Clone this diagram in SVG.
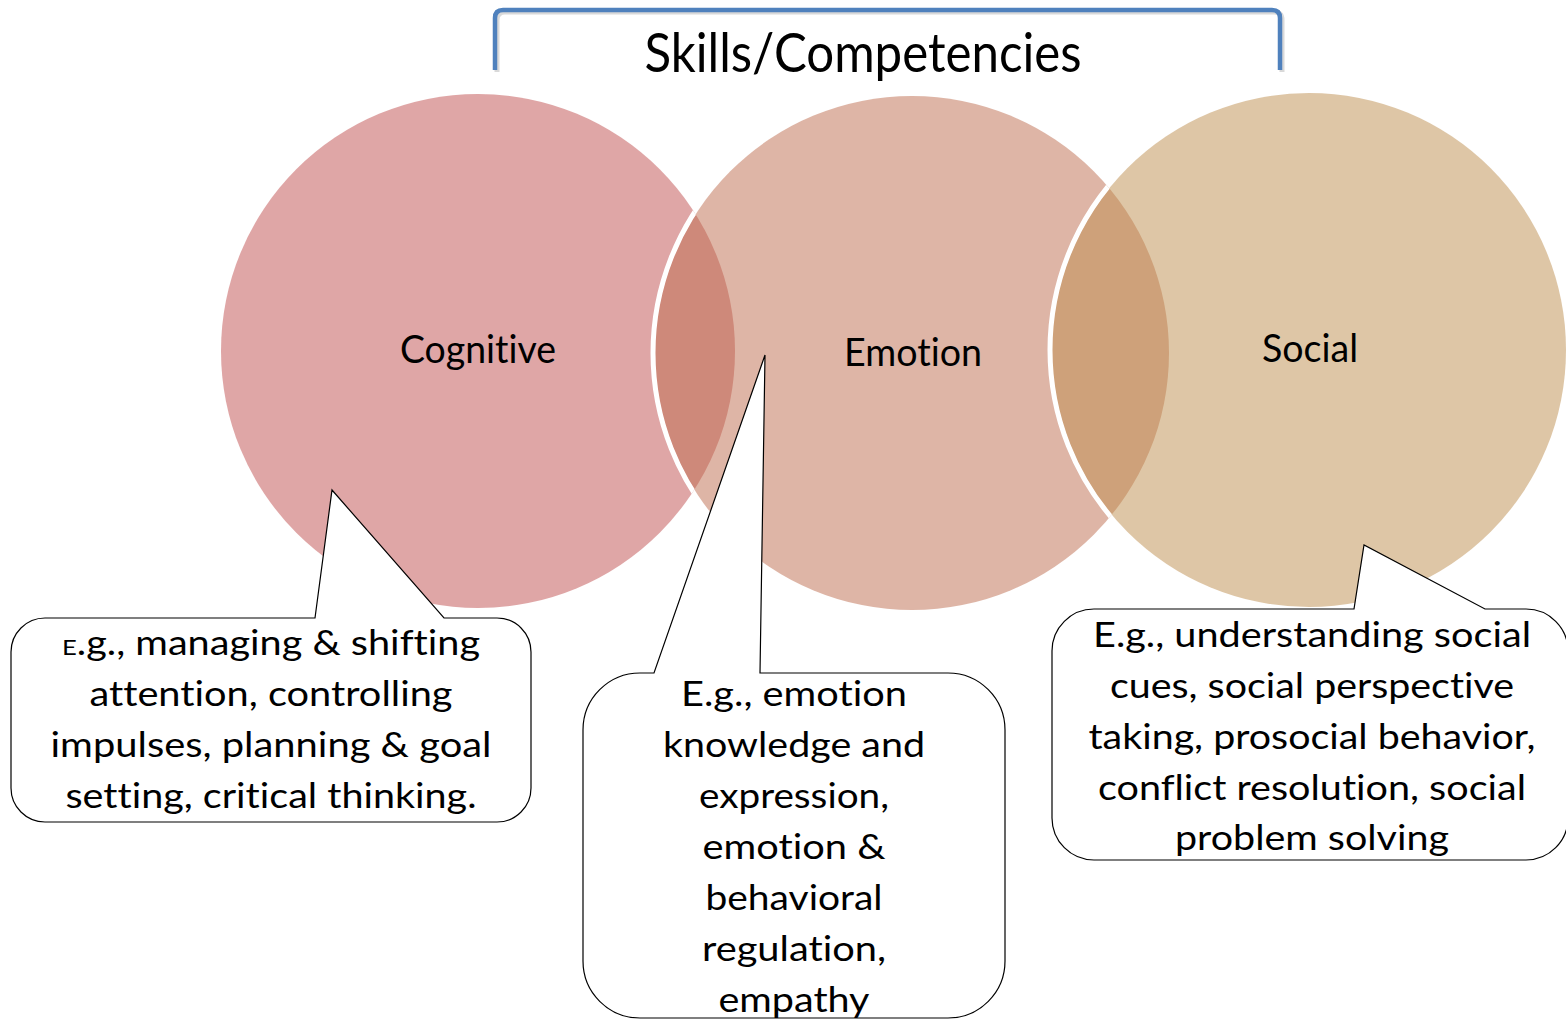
<svg xmlns="http://www.w3.org/2000/svg" width="1566" height="1021" viewBox="0 0 1566 1021">
  <style>
    text { font-family: Lato, "Open Sans", "Liberation Sans", sans-serif; fill: #000; text-anchor: middle; font-variant-ligatures: none; font-feature-settings: "liga" 0, "clig" 0; }
    .title { font-size: 55px; }
    .label { font-size: 38px; }
    .body { font-size: 34px; }
    .callout { fill: #fff; stroke: #000; stroke-width: 1.2; stroke-linejoin: miter; }
    .ring { fill: none; stroke: #fff; stroke-width: 5; }
  </style>
  <defs>
    <clipPath id="clipCog"><circle cx="478" cy="351" r="257"/></clipPath>
    <clipPath id="clipEmo"><circle cx="912" cy="353" r="257"/></clipPath>
  </defs>
  <rect width="1566" height="1021" fill="#fff"/>

  <g id="bracket">
    <path d="M497,72 L497,20 Q497,12 505,12 L1274,12 Q1282,12 1282,20 L1282,72" fill="none" stroke="#000" stroke-opacity="0.15" stroke-width="5"/>
    <path d="M495,70 L495,18 Q495,10 503,10 L1272,10 Q1280,10 1280,18 L1280,70" fill="none" stroke="#4F81BD" stroke-width="4.5" stroke-linejoin="round"/>
    <text class="title" x="863" y="72" textLength="437" lengthAdjust="spacingAndGlyphs">Skills/Competencies</text>
  </g>

  <g id="cognitive">
    <circle cx="478" cy="351" r="257" fill="#BF4D4D" fill-opacity="0.5"/>
  </g>
  <g id="emotion">
    <circle cx="912" cy="353" r="257" fill="#BD6B4D" fill-opacity="0.5"/>
    <circle class="ring" cx="912" cy="353" r="259" clip-path="url(#clipCog)"/>
  </g>
  <g id="social">
    <circle cx="1309" cy="350" r="257" fill="#BD8D4D" fill-opacity="0.5"/>
    <circle class="ring" cx="1309" cy="350" r="259" clip-path="url(#clipEmo)"/>
  </g>

  <g id="labels">
    <text class="label" x="478" y="363" textLength="156" lengthAdjust="spacingAndGlyphs">Cognitive</text>
    <text class="label" x="913" y="366" textLength="138" lengthAdjust="spacingAndGlyphs">Emotion</text>
    <text class="label" x="1310" y="362" textLength="96" lengthAdjust="spacingAndGlyphs">Social</text>
  </g>

  <g id="connectors">
    <path class="callout" d="M45,618 L315,618 L332,490 L444,618 L497,618 A34,34 0 0 1 531,652 L531,788 A34,34 0 0 1 497,822 L45,822 A34,34 0 0 1 11,788 L11,652 A34,34 0 0 1 45,618 Z"/>
    <path class="callout" d="M640,673 L654,673 L765,355 L760,673 L948,673 A57,57 0 0 1 1005,730 L1005,961 A57,57 0 0 1 948,1018 L640,1018 A57,57 0 0 1 583,961 L583,730 A57,57 0 0 1 640,673 Z"/>
    <path class="callout" d="M1094,609 L1354,609 L1364,545 L1485,609 L1526,609 A42,42 0 0 1 1568,651 L1568,818 A42,42 0 0 1 1526,860 L1094,860 A42,42 0 0 1 1052,818 L1052,651 A42,42 0 0 1 1094,609 Z"/>
  </g>

  <g id="callout-cognitive">
    <text class="body" x="271" y="655" textLength="418" lengthAdjust="spacingAndGlyphs"><tspan font-size="22">E</tspan>.g., managing &amp; shifting</text>
    <text class="body" x="271" y="706" textLength="363" lengthAdjust="spacingAndGlyphs">attention, controlling</text>
    <text class="body" x="271" y="757" textLength="441" lengthAdjust="spacingAndGlyphs">impulses, planning &amp; goal</text>
    <text class="body" x="271" y="808" textLength="411" lengthAdjust="spacingAndGlyphs">setting, critical thinking.</text>
  </g>

  <g id="callout-emotion">
    <text class="body" x="794" y="706" textLength="226" lengthAdjust="spacingAndGlyphs">E.g., emotion</text>
    <text class="body" x="794" y="757" textLength="262" lengthAdjust="spacingAndGlyphs">knowledge and</text>
    <text class="body" x="794" y="808" textLength="190" lengthAdjust="spacingAndGlyphs">expression,</text>
    <text class="body" x="794" y="859" textLength="183" lengthAdjust="spacingAndGlyphs">emotion &amp;</text>
    <text class="body" x="794" y="910" textLength="177" lengthAdjust="spacingAndGlyphs">behavioral</text>
    <text class="body" x="794" y="961" textLength="184" lengthAdjust="spacingAndGlyphs">regulation,</text>
    <text class="body" x="794" y="1012" textLength="151" lengthAdjust="spacingAndGlyphs">empathy</text>
  </g>

  <g id="callout-social">
    <text class="body" x="1312" y="647" textLength="438" lengthAdjust="spacingAndGlyphs">E.g., understanding social</text>
    <text class="body" x="1312" y="698" textLength="404" lengthAdjust="spacingAndGlyphs">cues, social perspective</text>
    <text class="body" x="1312" y="749" textLength="447" lengthAdjust="spacingAndGlyphs">taking, prosocial behavior,</text>
    <text class="body" x="1312" y="800" textLength="428" lengthAdjust="spacingAndGlyphs">conflict resolution, social</text>
    <text class="body" x="1312" y="850" textLength="274" lengthAdjust="spacingAndGlyphs">problem solving</text>
  </g>
</svg>
